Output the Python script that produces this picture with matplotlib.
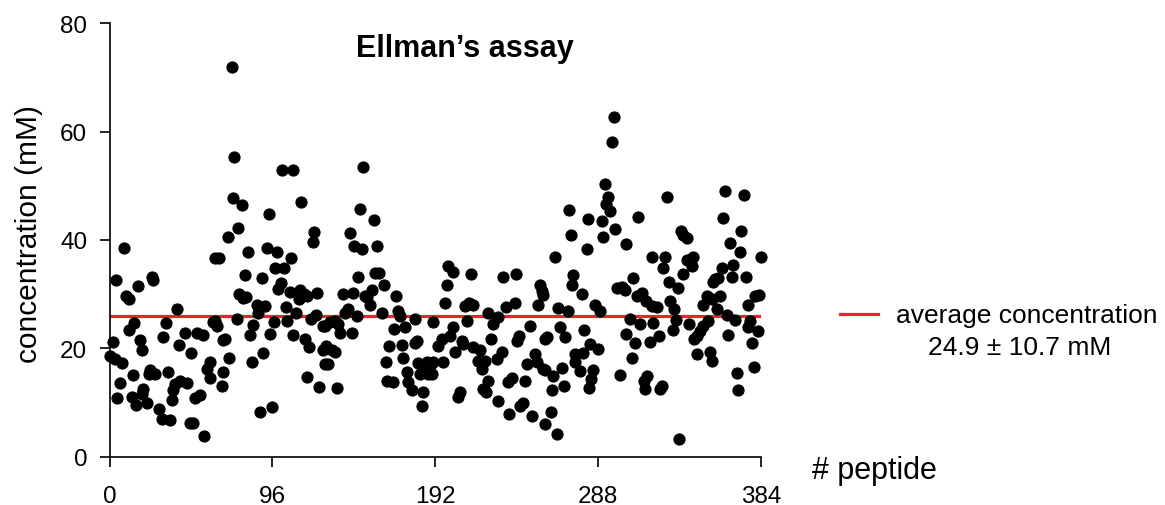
import numpy as np
import matplotlib.pyplot as plt

plt.rcParams["font.family"] = ["Liberation Sans", "DejaVu Sans"]

peptide = [
    0.3, 1.9, 3.2, 3.8, 4.6, 6.2, 7.2, 8.5, 9.7, 11.3, 11.7, 13.1, 13.7, 14.4, 15.6,
    17.0, 18.0, 19.0, 19.0, 19.9, 21.9, 23.5, 23.9, 24.9, 25.8, 26.8, 29.3, 30.8, 31.7,
    33.1, 34.7, 35.7, 36.6, 37.2, 38.6, 39.6, 40.8, 41.5, 44.7, 45.8, 47.4, 47.8, 49.4,
    50.4, 51.4, 53.3, 54.9, 55.9, 57.3, 59.2, 59.2, 61.2, 62.0,
    62.2, 63.2, 64.7, 66.1, 67.0, 67.0, 68.0, 70.0, 70.6, 72.0, 72.6, 73.5, 75.0, 75.9,
    76.5, 77.9, 78.8, 79.7, 80.4, 81.8, 82.8, 83.8, 84.7, 86.7, 87.7, 88.7, 89.7, 90.6,
    91.6, 92.6, 93.8, 94.6, 95.6, 96.9, 97.5, 98.9, 99.5, 100.9, 101.5, 102.8, 104.0,
    104.8, 106.4, 106.8, 108.0, 108.3, 109.9, 111.8, 112.3, 112.7, 114.6, 115.2, 116.2,
    116.6, 117.7, 118.6, 119.7, 120.7, 121.7, 122.5, 123.6, 125.6,
    126.0, 127.0, 127.0, 127.9, 128.9, 129.9, 130.9, 132.9, 132.9, 133.9, 134.8, 135.8,
    137.4, 138.8, 140.7, 141.7, 142.7, 143.7, 144.1, 145.7, 146.6, 147.6, 148.6, 149.6,
    150.5, 151.5, 153.5, 154.5, 155.9, 156.4, 157.8, 159.0, 160.4, 161.8, 163.0, 163.4,
    164.9, 166.9, 167.6, 168.8, 170.2, 171.2, 172.2, 172.8, 174.1, 175.5, 176.1, 178.1,
    180.0, 180.0, 181.0, 182.0, 183.0, 184.0, 185.0, 186.0, 186.9, 187.9, 188.9, 189.9,
    190.8, 190.8,
    193.8, 195.8, 196.7, 197.7, 198.7, 199.7, 200.6, 202.2, 202.6, 203.6, 205.5, 206.5,
    207.5, 208.5, 209.5, 210.8, 212.0, 212.8, 214.0, 214.4, 217.3, 218.3, 219.3, 220.3,
    221.3, 222.2, 223.2, 223.2, 224.8, 226.2, 228.2, 229.1, 229.1, 231.1, 231.7, 233.6,
    235.0, 235.6, 237.0, 239.0, 239.5, 240.3, 241.5, 241.9, 243.5, 244.8, 245.8, 247.8,
    248.8, 250.7, 251.7, 252.7, 253.7, 254.7, 255.6, 255.6, 256.7, 256.7,
    256.6, 257.6, 260.0, 260.6, 261.5, 262.5, 263.9, 264.5, 265.5, 266.5, 267.8, 268.4,
    270.4, 270.9, 271.8, 272.4, 273.3, 274.3, 274.3, 277.2, 278.3, 279.2, 279.8, 281.2,
    282.1, 282.7, 283.1, 284.1, 285.1, 286.1, 288.0, 289.1, 290.0, 291.0, 292.0, 292.9,
    293.9, 294.8, 295.9, 297.3, 297.9, 299.2, 300.8, 301.8, 303.8, 304.4, 304.4, 306.7,
    307.7, 308.7, 309.7, 310.7, 311.6, 312.6, 313.6, 315.0, 315.6, 316.5, 316.6, 318.5,
    319.5, 319.5, 320.4,
    322.8, 324.0, 324.4, 325.4, 326.3, 327.3, 328.7, 329.9, 330.3, 331.9, 332.6, 333.8,
    335.2, 335.8, 336.6, 338.1, 338.1, 340.1, 340.1, 341.7, 343.1, 343.7, 344.4, 346.0,
    346.0, 348.0, 349.9, 349.9, 351.9, 352.9, 353.9, 354.9, 354.9, 355.8, 356.8, 357.8,
    358.8, 359.7, 360.8, 361.7, 362.7, 364.1, 364.6, 365.6, 366.7, 367.6, 368.6, 370.0,
    370.5, 371.5, 372.5, 373.9, 375.1, 376.4, 376.4, 377.4, 379.0, 379.8, 380.4, 382.3,
    382.9, 383.9,
]
conc = [
    18.6, 21.1, 18.0, 32.7, 10.8, 13.6, 17.3, 38.6, 29.7, 29.1, 23.4, 11.0, 15.1, 24.7, 9.5,
    31.5, 21.6, 19.6, 11.6, 12.5, 10.0, 15.3, 16.0, 33.2, 32.6, 15.3, 8.8, 7.0, 22.0,
    24.6, 15.7, 6.8, 10.5, 12.4, 13.4, 27.2, 20.7, 14.0, 22.9, 13.6, 6.2, 19.1, 6.3,
    10.8, 22.9, 11.3, 22.5, 3.8, 16.2, 17.4, 14.6, 24.8, 36.7,
    25.1, 24.1, 36.6, 13.0, 21.6, 15.7, 21.8, 40.6, 18.2, 72.0, 47.7, 55.4, 25.5, 42.3,
    30.0, 46.4, 29.2, 33.5, 29.4, 37.7, 22.5, 17.5, 24.3, 28.0, 26.5, 8.2, 32.9, 19.1,
    27.9, 38.6, 44.8, 22.6, 9.1, 24.9, 34.9, 37.8, 30.9, 32.0, 53.0, 34.8, 27.7,
    25.0, 30.4, 36.7, 53.0, 22.5, 26.6, 29.1, 30.8, 47.0, 30.0, 21.7, 29.6,
    14.8, 20.2, 25.4, 39.7, 41.4, 26.1, 30.2, 12.8, 24.2,
    19.6, 17.1, 24.2, 20.5, 17.1, 24.8, 19.6, 25.1, 19.3, 12.6, 24.5, 22.9,
    30.0, 26.6, 27.3, 41.3, 22.9, 30.3, 38.8, 26.0, 33.2, 45.7, 38.3, 53.4,
    29.7, 29.4, 28.0, 30.8, 43.7, 33.9, 38.8, 33.9, 26.6, 31.6, 17.4, 14.0,
    20.4, 13.7, 23.6, 29.6, 26.9, 26.0, 20.6, 18.2, 23.9, 15.6, 13.7, 12.4,
    25.4, 21.0, 21.4, 17.3, 15.3, 9.4, 11.9, 15.9, 17.4, 15.3, 16.8, 15.3,
    24.8, 17.4,
    20.5, 21.8, 17.4, 28.4, 31.6, 35.2, 22.3, 34.0, 23.9, 19.3, 11.0, 11.9,
    21.4, 20.8, 27.9, 25.1, 28.4, 33.7, 28.0, 20.2, 17.7, 19.6, 16.2, 12.5,
    17.7, 11.9, 26.6, 14.0, 21.7, 24.5, 18.0, 25.7, 10.3, 19.3, 33.2, 27.7,
    13.7, 7.9, 14.6, 28.4, 33.7, 21.4, 22.3, 9.4, 10.0, 14.0, 17.1, 24.2,
    7.6, 18.9, 17.4, 28.0, 31.6, 30.6, 16.2, 29.9, 21.7, 6.0,
    16.0, 22.0, 8.2, 12.4, 14.9, 36.8, 4.2, 27.4, 23.9, 16.3, 13.0, 22.0,
    26.8, 45.6, 41.0, 31.6, 33.5, 18.9, 17.4, 15.9, 30.0, 19.1, 23.4, 38.3,
    43.9, 12.6, 20.8, 14.3, 16.0, 28.0, 19.9, 26.9, 43.5, 40.5, 50.4, 46.6,
    47.9, 45.4, 58.1, 62.7, 42.0, 31.1, 15.1, 31.3, 30.8, 39.2, 22.6, 25.4,
    18.2, 32.9, 21.0, 29.7, 44.2, 24.5, 30.3, 14.0, 12.5, 28.8, 14.9, 21.2,
    36.8, 27.9, 24.7,
    27.6, 22.2, 12.5, 13.1, 34.9, 36.8, 48.0, 32.2, 28.8, 23.3, 27.3, 25.3,
    31.1, 3.3, 41.7, 40.9, 33.7, 40.3, 36.3, 24.4, 35.2, 36.8, 21.7, 22.3,
    18.9, 23.2, 28.0, 24.2, 29.7, 25.1, 19.3, 29.1, 17.7, 32.2, 32.8, 27.3,
    32.9, 29.6, 34.9, 44.0, 49.1, 26.1, 22.5, 39.4, 33.1, 35.4, 25.3, 15.4,
    12.4, 37.7, 41.7, 48.3, 33.1, 28.0, 23.9, 25.1, 21.0, 16.5, 29.7, 23.2,
    29.8, 36.8,
]
avg_line = 25.9
legend_text = "average concentration\n24.9 \u00b1 10.7 mM"

fig = plt.figure(figsize=(11.65, 5.06), dpi=100)
ax = fig.add_axes([0.094, 0.0955, 0.5592, 0.8565])

ax.plot(peptide, conc, "o", color="black", markersize=8, markeredgewidth=0.8,
        clip_on=False, zorder=3)
ax.plot([0, 384], [avg_line, avg_line], color="#e8262a", lw=2.3, zorder=2)

ax.set_xlim(0, 384)
ax.set_ylim(0, 80)
ax.set_xticks([0, 96, 192, 288, 384])
ax.set_yticks([0, 20, 40, 60, 80])
for s in ["top", "right"]:
    ax.spines[s].set_visible(False)
for s in ["left", "bottom"]:
    ax.spines[s].set_linewidth(1.2)
ax.tick_params(axis="both", direction="out", length=7.5, width=1.2, labelsize=17.5)
ax.tick_params(axis="x", pad=13)
ax.tick_params(axis="y", pad=8.5)

ax.set_ylabel("concentration (mM)", fontsize=21.5)
ax.yaxis.set_label_coords(-0.102, 0.515)
ax.text(0.545, 0.943, "Ellman\u2019s assay", transform=ax.transAxes, ha="center",
        va="center", fontsize=22, fontweight="bold")
ax.text(812 / 1165, 1 - 471 / 506, "# peptide", transform=fig.transFigure,
        ha="left", va="center", fontsize=22)

# legend drawn by hand, to the right of the axes
fig.lines.append(plt.Line2D([840 / 1165, 878 / 1165], [1 - 315 / 506, 1 - 315 / 506],
                            transform=fig.transFigure, color="#e8262a", lw=2.3))
line1, line2 = legend_text.split("\n")
fig.text(1027 / 1165, 1 - 316 / 506, line1, ha="center", va="center", fontsize=19)
fig.text(1020 / 1165, 1 - 348 / 506, line2, ha="center", va="center", fontsize=19)

fig.savefig("out.png", dpi=100)
